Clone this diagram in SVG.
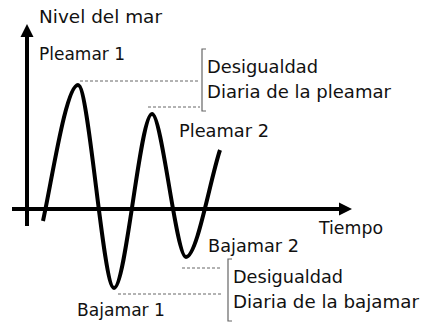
<svg xmlns="http://www.w3.org/2000/svg" width="422" height="322" viewBox="0 0 422 322">
<style>
text{font-family:"DejaVu Sans","Liberation Sans",sans-serif;font-size:17px;fill:#111}
.ax{stroke:#000;stroke-width:4;fill:none}
.dash{stroke:#666;stroke-width:1;stroke-dasharray:3 2;fill:none}
.br{stroke:#666;stroke-width:1.2;fill:none}
</style>
<rect width="422" height="322" fill="#fff"/>
<g id="axes">
<line class="ax" x1="27" y1="226" x2="27" y2="35"/>
<polygon points="27,24 20.5,37 33.5,37" fill="#000"/>
<line class="ax" x1="12" y1="209" x2="340" y2="209"/>
<polygon points="352,209 339,202.5 339,215.5" fill="#000"/>
</g>
<g id="curve">
<path class="ax" d="M43,221 C52,180 66,85 78,85 C89,85 103,288 114,288 C126,288 140,114 152,114 C162,114 176,257 186,257 C197,257 210,180 220,150"/>
</g>
<g id="guides">
<line class="dash" x1="80" y1="81" x2="200" y2="81"/>
<line class="dash" x1="148" y1="107" x2="200" y2="107"/>
<line class="dash" x1="182" y1="268" x2="222" y2="268"/>
<line class="dash" x1="118" y1="294" x2="222" y2="294"/>
<path class="br" d="M206,49 H202 V111 H206"/>
<path class="br" d="M232,259 H228 V321 H232"/>
</g>
<g id="labels">
<text x="39" y="23" textLength="123" lengthAdjust="spacingAndGlyphs">Nivel del mar</text>
<text x="39" y="60" textLength="86" lengthAdjust="spacingAndGlyphs">Pleamar 1</text>
<text x="207" y="73" textLength="111" lengthAdjust="spacingAndGlyphs">Desigualdad</text>
<text x="207" y="98" textLength="184" lengthAdjust="spacingAndGlyphs">Diaria de la pleamar</text>
<text x="179" y="137" textLength="90" lengthAdjust="spacingAndGlyphs">Pleamar 2</text>
<text x="319" y="234" textLength="64" lengthAdjust="spacingAndGlyphs">Tiempo</text>
<text x="208" y="252" textLength="91" lengthAdjust="spacingAndGlyphs">Bajamar 2</text>
<text x="233" y="283" textLength="110" lengthAdjust="spacingAndGlyphs">Desigualdad</text>
<text x="233" y="308" textLength="186" lengthAdjust="spacingAndGlyphs">Diaria de la bajamar</text>
<text x="77" y="316" textLength="88" lengthAdjust="spacingAndGlyphs">Bajamar 1</text>
</g>
</svg>
